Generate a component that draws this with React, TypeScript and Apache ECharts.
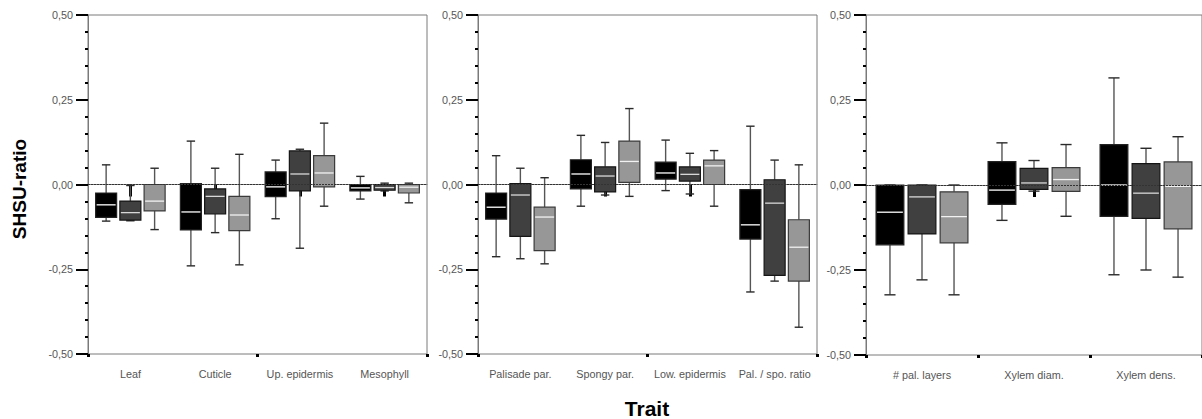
import React, { useEffect, useRef } from "react";
import * as echarts from "echarts";

// [min, q1, median, q3, max]
const categories1 = ["Leaf", "Cuticle", "Up. epidermis", "Mesophyll"];
const panel1Black = [
  [-0.108, -0.097, -0.06, -0.025, 0.058],
  [-0.24, -0.134, -0.081, 0.003, 0.128],
  [-0.101, -0.036, -0.007, 0.037, 0.072],
  [-0.043, -0.019, -0.01, 0.0, 0.024],
];
const panel1Dark = [
  [-0.107, -0.105, -0.083, -0.049, -0.003],
  [-0.142, -0.087, -0.035, -0.013, 0.048],
  [-0.188, -0.019, 0.031, 0.099, 0.104],
  [-0.019, -0.017, -0.009, 0.0, 0.004],
];
const panel1Light = [
  [-0.133, -0.078, -0.049, 0.0, 0.048],
  [-0.237, -0.136, -0.09, -0.035, 0.089],
  [-0.064, -0.007, 0.034, 0.085, 0.181],
  [-0.054, -0.025, -0.008, 0.0, 0.004],
];

const categories2 = ["Palisade par.", "Spongy par.", "Low. epidermis", "Pal. / spo. ratio"];
const panel2Black = [
  [-0.213, -0.102, -0.067, -0.025, 0.085],
  [-0.064, -0.013, 0.031, 0.073, 0.145],
  [-0.018, 0.016, 0.034, 0.066, 0.131],
  [-0.317, -0.161, -0.119, -0.015, 0.172],
];
const panel2Dark = [
  [-0.219, -0.153, -0.031, 0.003, 0.048],
  [-0.031, -0.022, 0.025, 0.052, 0.124],
  [-0.028, 0.01, 0.03, 0.052, 0.092],
  [-0.285, -0.268, -0.055, 0.014, 0.072],
];
const panel2Light = [
  [-0.234, -0.195, -0.096, -0.067, 0.02],
  [-0.035, 0.006, 0.068, 0.128, 0.224],
  [-0.064, 0.0, 0.055, 0.072, 0.1],
  [-0.421, -0.285, -0.185, -0.104, 0.058],
];

const categories3 = ["# pal. layers", "Xylem diam.", "Xylem dens."];
const panel3Black = [
  [-0.323, -0.176, -0.08, 0.0, 0.0],
  [-0.104, -0.057, -0.015, 0.069, 0.124],
  [-0.264, -0.092, 0.0, 0.119, 0.315],
];
const panel3Dark = [
  [-0.279, -0.144, -0.035, 0.0, 0.0],
  [-0.018, -0.013, 0.006, 0.049, 0.072],
  [-0.25, -0.098, -0.024, 0.063, 0.108],
];
const panel3Light = [
  [-0.323, -0.17, -0.093, -0.02, 0.0],
  [-0.092, -0.019, 0.016, 0.051, 0.119],
  [-0.271, -0.129, -0.004, 0.068, 0.142],
];

const yTicks = { min: -0.5, max: 0.5, interval: 0.25 };
const yTitle = "SHSU-ratio";
const xTitle = "Trait";

const groupFill = ["#000000", "#404040", "#979797"];
const groupBorder = ["#222222", "#151515", "#3a3a3a"];
const groupMedian = ["#ffffff", "#d8d8d8", "#f2f2f2"];
const groupOffset = [-0.286, 0, 0.286];

const FONT = "Liberation Sans, Arial, Helvetica, sans-serif";

function makeRenderItem(g: number) {
  return (params: any, api: any) => {
    const cat = api.value(0);
    const min = api.value(1);
    const q1 = api.value(2);
    const med = api.value(3);
    const q3 = api.value(4);
    const max = api.value(5);
    const band = api.size([1, 0])[0];
    const cx = api.coord([cat, 0])[0] + groupOffset[g] * band;
    const w = 0.248 * band;
    const cap = 0.4 * w;
    const y = (v: number) => api.coord([cat, v])[1];
    const yMin = y(min), yQ1 = y(q1), yMed = y(med), yQ3 = y(q3), yMax = y(max);
    const whisker = { stroke: "#555555", lineWidth: 1.4 };
    const capStyle = { stroke: "#2a2a2a", lineWidth: 1.4 };
    const children: any[] = [];
    if (Math.abs(yMax - yQ3) > 0.5) {
      children.push({ type: "line", shape: { x1: cx, y1: yQ3, x2: cx, y2: yMax }, style: whisker });
    }
    children.push({ type: "line", shape: { x1: cx - cap / 2, y1: yMax, x2: cx + cap / 2, y2: yMax }, style: capStyle });
    if (Math.abs(yMin - yQ1) > 0.5) {
      children.push({ type: "line", shape: { x1: cx, y1: yQ1, x2: cx, y2: yMin }, style: whisker });
    }
    children.push({ type: "line", shape: { x1: cx - cap / 2, y1: yMin, x2: cx + cap / 2, y2: yMin }, style: capStyle });
    children.push({
      type: "rect",
      shape: { x: cx - w / 2, y: yQ3, width: w, height: Math.max(yQ1 - yQ3, 1) },
      style: { fill: groupFill[g], stroke: groupBorder[g], lineWidth: 1.2 },
    });
    children.push({
      type: "line",
      shape: { x1: cx - w / 2 + 1, y1: yMed, x2: cx + w / 2 - 1, y2: yMed },
      style: { stroke: groupMedian[g], lineWidth: 1.3 },
    });
    return { type: "group", children };
  };
}

const panels = [
  { cats: categories1, groups: [panel1Black, panel1Dark, panel1Light], left: 88, width: 339, height: 339 },
  { cats: categories2, groups: [panel2Black, panel2Dark, panel2Light], left: 478, width: 339, height: 339 },
  { cats: categories3, groups: [panel3Black, panel3Dark, panel3Light], left: 866, width: 339, height: 340 },
];

export default function App() {
  const ref = useRef<HTMLDivElement>(null);
  useEffect(() => {
    if (!ref.current) return;
    const chart = echarts.init(ref.current, undefined, { renderer: "svg" });
    const grid: any[] = [];
    const xAxis: any[] = [];
    const yAxis: any[] = [];
    const series: any[] = [];
    panels.forEach((p, i) => {
      grid.push({
        left: p.left,
        top: 15,
        width: p.width,
        height: p.height,
        show: true,
        borderColor: "#7a7a7a",
        borderWidth: 1,
        backgroundColor: "transparent",
      });
      // main x axis (labels + ticks at categories)
      xAxis.push({
        type: "category",
        gridIndex: i,
        data: p.cats,
        position: "bottom",
        boundaryGap: true,
        axisLine: { show: true, lineStyle: { color: "#7a7a7a", width: 1 } },
        axisTick: { show: true, alignWithLabel: true, length: 12, lineStyle: { color: "#000", width: 3 } },
        axisLabel: { color: "#555", fontSize: 10.8, fontFamily: FONT, margin: 14, interval: 0 },
        splitLine: { show: false },
      });
      // secondary x axis: small ticks at band boundaries
      xAxis.push({
        type: "category",
        gridIndex: i,
        data: p.cats,
        position: "bottom",
        offset: 0,
        boundaryGap: true,
        axisLine: { show: false },
        axisTick: { show: true, length: 3, lineStyle: { color: "#000", width: 3 } },
        axisLabel: { show: false },
        splitLine: { show: false },
      });
      yAxis.push({
        type: "value",
        gridIndex: i,
        min: yTicks.min,
        max: yTicks.max,
        interval: yTicks.interval,
        axisLine: { show: true, lineStyle: { color: "#7a7a7a", width: 1 } },
        axisTick: { show: true, length: 12, lineStyle: { color: "#000", width: 2 } },
        minorTick: { show: true, splitNumber: 5, length: 3, lineStyle: { color: "#000", width: 2 } },
        splitLine: { show: false },
        minorSplitLine: { show: false },
        axisLabel: {
          color: "#555",
          fontSize: 10.8,
          fontFamily: FONT,
          margin: 15,
          formatter: (v: number) => v.toFixed(2).replace(".", ","),
        },
      });
      series.push({
        type: "line",
        xAxisIndex: i * 2,
        yAxisIndex: i,
        data: [],
        z: 1,
        silent: true,
        markLine: {
          silent: true,
          symbol: "none",
          label: { show: false },
          lineStyle: { color: "#333", width: 1, type: [2, 1] },
          data: [{ yAxis: 0 }],
        },
      });
      p.groups.forEach((grp, g) => {
        series.push({
          type: "custom",
          xAxisIndex: i * 2,
          yAxisIndex: i,
          z: 3,
          renderItem: makeRenderItem(g),
          encode: { x: 0, y: [1, 2, 3, 4, 5] },
          data: grp.map((d, c) => [c, ...d]),
        });
      });
    });
    chart.setOption({
      animation: false,
      grid,
      xAxis,
      yAxis,
      series,
      graphic: [
        {
          type: "text",
          x: 19,
          y: 189,
          rotation: Math.PI / 2,
          style: {
            text: yTitle,
            font: `bold 19px ${FONT}`,
            fill: "#000",
            textAlign: "center",
            textVerticalAlign: "middle",
          },
        },
        {
          type: "text",
          x: 647,
          y: 408,
          style: {
            text: xTitle,
            font: `bold 21px ${FONT}`,
            fill: "#000",
            textAlign: "center",
            textVerticalAlign: "middle",
          },
        },
      ],
    });
    return () => chart.dispose();
  }, []);
  return (
    <div
      ref={ref}
      style={{ position: "fixed", left: 0, top: 0, width: 1202, height: 419, background: "#fff" }}
    />
  );
}
